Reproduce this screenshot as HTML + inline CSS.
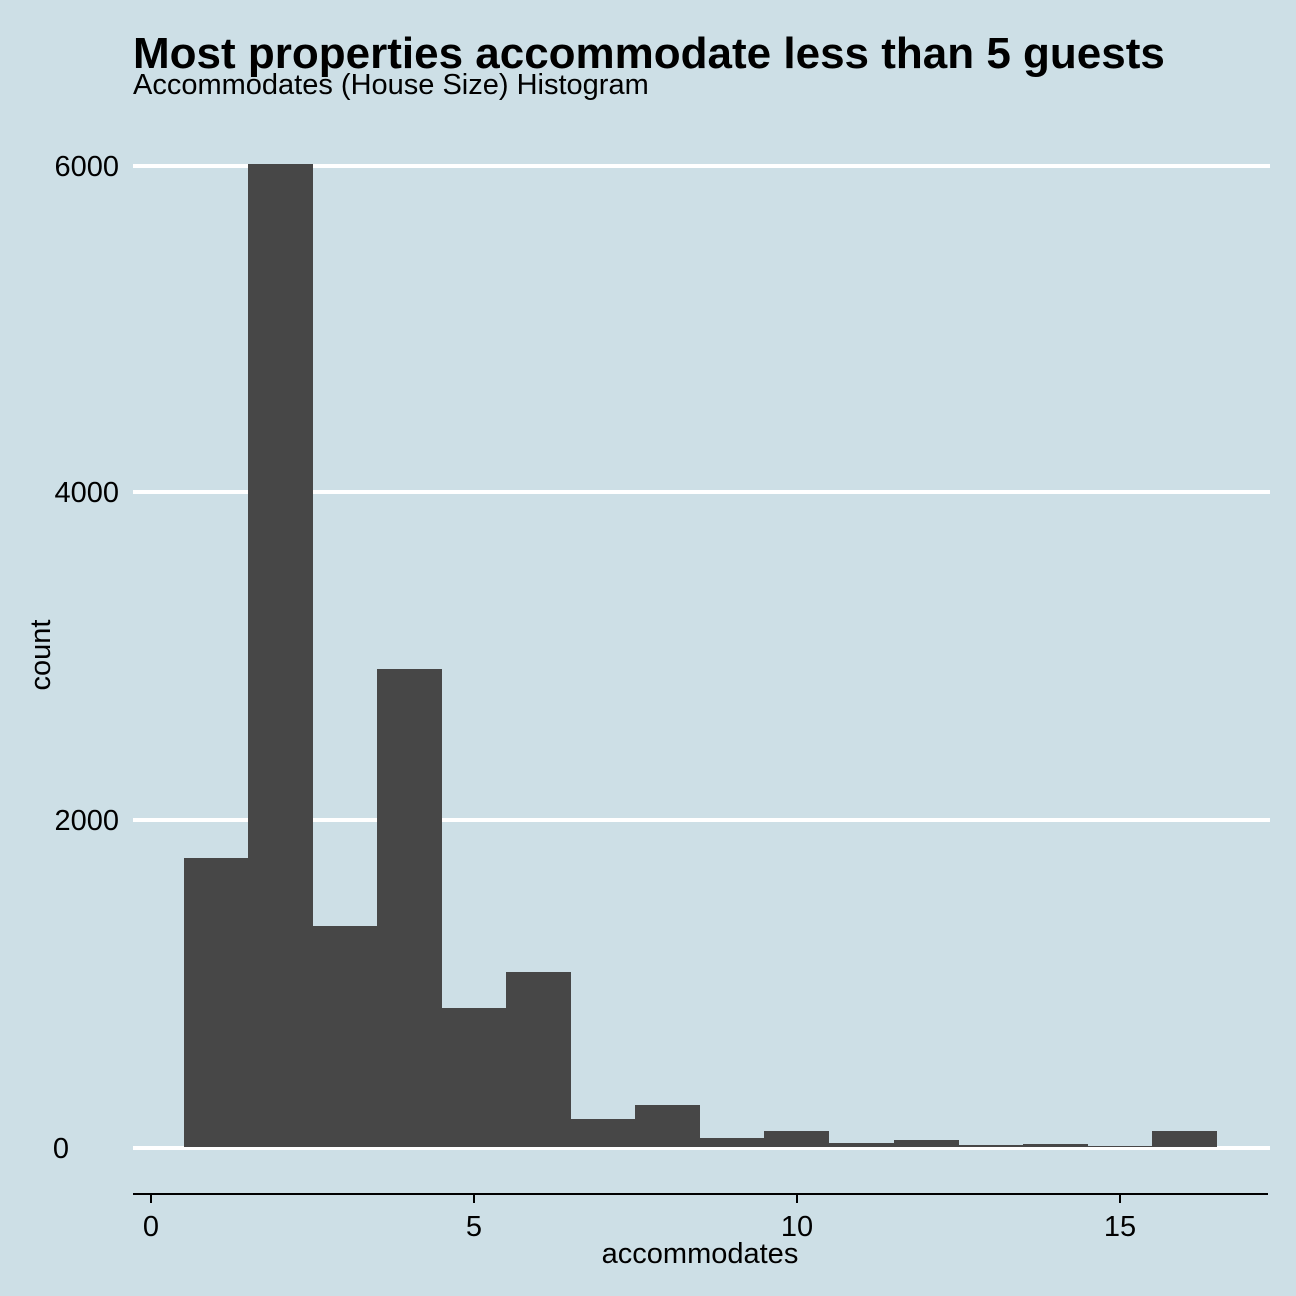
<!DOCTYPE html><html><head><style>body{margin:0}svg{display:block}text{font-family:"Liberation Sans",Arial,sans-serif}</style></head><body>
<svg width="1296" height="1296" xmlns="http://www.w3.org/2000/svg">
<rect width="1296" height="1296" fill="#cddfe6"/>
<g stroke="#fff" stroke-width="4">
<line x1="133" x2="1270" y1="166" y2="166"/><line x1="133" x2="1270" y1="492" y2="492"/>
<line x1="133" x2="1270" y1="820" y2="820"/><line x1="133" x2="1270" y1="1148" y2="1148"/></g>
<g fill="#474747">
<rect x="184" y="858" width="65" height="289"/>
<rect x="248" y="164" width="65" height="983"/>
<rect x="312" y="926" width="65" height="221"/>
<rect x="377" y="669" width="65" height="478"/>
<rect x="441" y="1008" width="65" height="139"/>
<rect x="506" y="972" width="65" height="175"/>
<rect x="571" y="1119" width="65" height="28"/>
<rect x="635" y="1105" width="65" height="42"/>
<rect x="700" y="1138" width="65" height="9"/>
<rect x="764" y="1131" width="65" height="16"/>
<rect x="829" y="1143" width="65" height="4"/>
<rect x="894" y="1140" width="65" height="7"/>
<rect x="958" y="1145" width="65" height="2"/>
<rect x="1023" y="1144" width="65" height="3"/>
<rect x="1088" y="1146" width="65" height="1"/>
<rect x="1152" y="1131" width="65" height="16"/>
</g>
<g stroke="#000" stroke-width="2"><line x1="133" x2="1268" y1="1194" y2="1194"/>
<line x1="151" x2="151" y1="1194" y2="1203"/><line x1="474" x2="474" y1="1194" y2="1203"/>
<line x1="797" x2="797" y1="1194" y2="1203"/><line x1="1120" x2="1120" y1="1194" y2="1203"/></g>
<g font-size="29" text-anchor="middle" fill="#000">
<text x="151" y="1236">0</text><text x="474" y="1236">5</text><text x="797" y="1236">10</text><text x="1120" y="1236">15</text>
<text x="700" y="1263">accommodates</text></g>
<g font-size="29" text-anchor="end"><text x="119" y="176">6000</text><text x="119" y="502">4000</text><text x="119" y="830">2000</text><text x="69" y="1158">0</text></g>
<text transform="translate(50,655) rotate(-90)" font-size="29" text-anchor="middle">count</text>
<text x="133" y="68" font-size="44" font-weight="bold">Most properties accommodate less than 5 guests</text>
<text x="133" y="94" font-size="29">Accommodates (House Size) Histogram</text>
</svg></body></html>
